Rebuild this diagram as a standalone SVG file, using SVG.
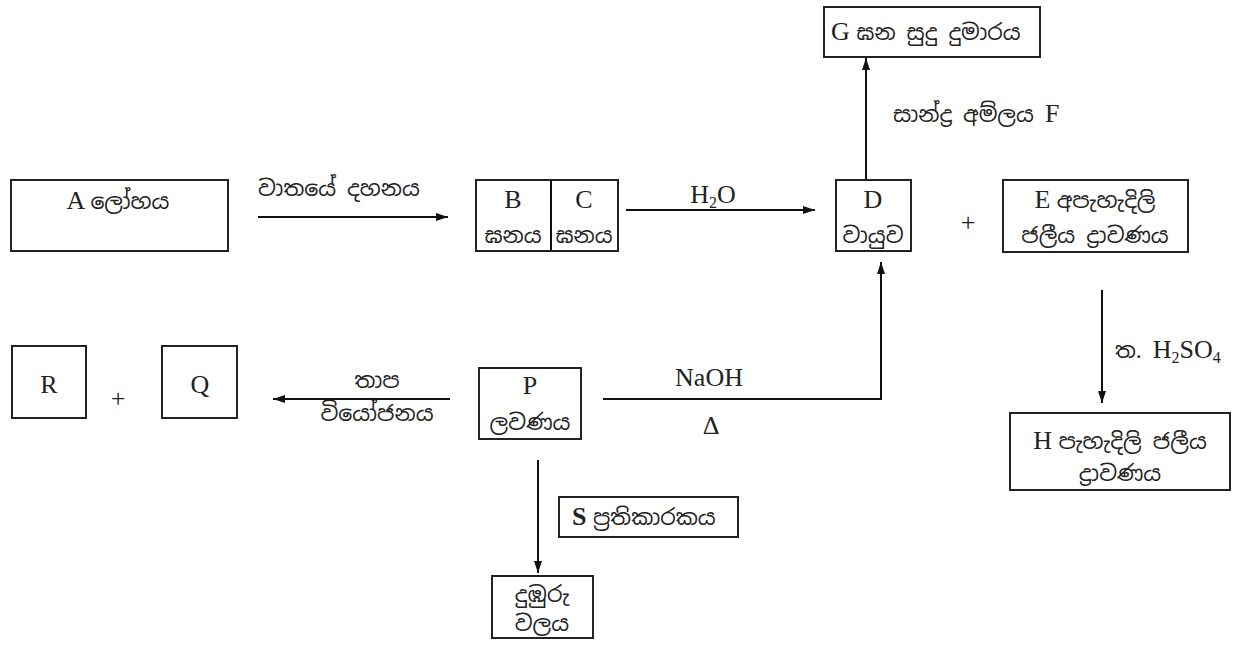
<svg xmlns="http://www.w3.org/2000/svg" width="1240" height="650" viewBox="0 0 1240 650">
<style>
.box{fill:#fff;stroke:#222;stroke-width:2}
.ln{fill:none;stroke:#111;stroke-width:2}
.t{font-family:"Liberation Serif","Noto Serif Sinhala","Noto Sans Sinhala","Iskoola Pota",serif;font-size:26px;fill:#222}
.s{font-family:"Noto Sans Sinhala","Iskoola Pota","Liberation Serif","DejaVu Sans",sans-serif;font-size:22px;fill:#222}
.m{text-anchor:middle}
</style>
<defs>
<marker id="ah" viewBox="0 0 12 10" refX="12" refY="5" markerWidth="12" markerHeight="10" markerUnits="userSpaceOnUse" orient="auto">
<path d="M0,1 L12,5 L0,9 Z" fill="#111"/>
</marker>
</defs>
<rect width="1240" height="650" fill="#fff"/>
<g id="connectors">
<line class="ln" x1="258" y1="217" x2="448" y2="217" marker-end="url(#ah)"/>
<line class="ln" x1="626" y1="210" x2="815" y2="210" marker-end="url(#ah)"/>
<line class="ln" x1="866" y1="180" x2="866" y2="58" marker-end="url(#ah)"/>
<line class="ln" x1="1102" y1="290" x2="1102" y2="403" marker-end="url(#ah)"/>
<line class="ln" x1="450" y1="399" x2="273" y2="399" marker-end="url(#ah)"/>
<polyline class="ln" points="603,399 881,399 881,262" marker-end="url(#ah)"/>
<line class="ln" x1="538" y1="460" x2="538" y2="573" marker-end="url(#ah)"/>
<text class="s" x="258" y="196">වාතයේ දහනය</text>
<text class="t m" x="713" y="203">H<tspan font-size="16" dy="5">2</tspan><tspan dy="-5">O</tspan></text>
<text class="s" x="893" y="122">සාන්ද්‍ර අම්ලය <tspan class="t">F</tspan></text>
<text class="s" x="1115" y="358">ත. <tspan class="t">H<tspan font-size="16" dy="5">2</tspan><tspan dy="-5">SO</tspan><tspan font-size="16" dy="5">4</tspan></tspan></text>
<text class="s m" x="377" y="388">තාප</text>
<text class="s m" x="377" y="421">වියෝජනය</text>
<text class="t m" x="709" y="386">NaOH</text>
<text class="t m" x="711" y="434">Δ</text>
</g>
<g id="nodeA">
<rect class="box" x="11" y="180" width="217" height="71"/>
<text class="t m" x="118" y="209">A <tspan class="s">ලෝහය</tspan></text>
</g>
<g id="nodeBC">
<rect class="box" x="476" y="180" width="142" height="71"/>
<line class="ln" x1="551" y1="180" x2="551" y2="251"/>
<text class="t m" x="513" y="208">B</text>
<text class="s m" x="513" y="243">ඝනය</text>
<text class="t m" x="584" y="208">C</text>
<text class="s m" x="584" y="243">ඝනය</text>
</g>
<g id="nodeD">
<rect class="box" x="836" y="180" width="75" height="71"/>
<text class="t m" x="873" y="208">D</text>
<text class="s m" x="873" y="243">වායුව</text>
</g>
<g id="nodeG">
<rect class="box" x="824" y="7" width="216" height="50"/>
<text class="t" x="831" y="40">G <tspan class="s">ඝන සුදු දුමාරය</tspan></text>
</g>
<g id="plusDE">
<text class="t m" x="968" y="231" font-size="22">+</text>
</g>
<g id="nodeE">
<rect class="box" x="1003" y="180" width="185" height="72"/>
<text class="t m" x="1095" y="208">E <tspan class="s">අපැහැදිලි</tspan></text>
<text class="s m" x="1095" y="243">ජලීය ද්‍රාවණය</text>
</g>
<g id="nodeH">
<rect class="box" x="1010" y="413" width="220" height="77"/>
<text class="t m" x="1120" y="449">H <tspan class="s">පැහැදිලි ජලීය</tspan></text>
<text class="s m" x="1120" y="481">ද්‍රාවණය</text>
</g>
<g id="nodeR">
<rect class="box" x="12" y="346" width="74" height="72"/>
<text class="t m" x="49" y="393">R</text>
</g>
<g id="plusRQ">
<text class="t m" x="118" y="407" font-size="20">+</text>
</g>
<g id="nodeQ">
<rect class="box" x="162" y="346" width="75" height="72"/>
<text class="t m" x="200" y="393">Q</text>
</g>
<g id="nodeP">
<rect class="box" x="479" y="368" width="102" height="71"/>
<text class="t m" x="530" y="394">P</text>
<text class="s m" x="530" y="430">ලවණය</text>
</g>
<g id="nodeS">
<rect class="box" x="559" y="497" width="179" height="40"/>
<text class="t" x="572" y="525" font-weight="bold">S <tspan class="s" font-weight="normal">ප්‍රතිකාරකය</tspan></text>
</g>
<g id="nodeRing">
<rect class="box" x="492" y="576" width="101" height="62"/>
<text class="s m" x="542" y="602">දුඹුරු</text>
<text class="s m" x="542" y="631">වලය</text>
</g>
</svg>
